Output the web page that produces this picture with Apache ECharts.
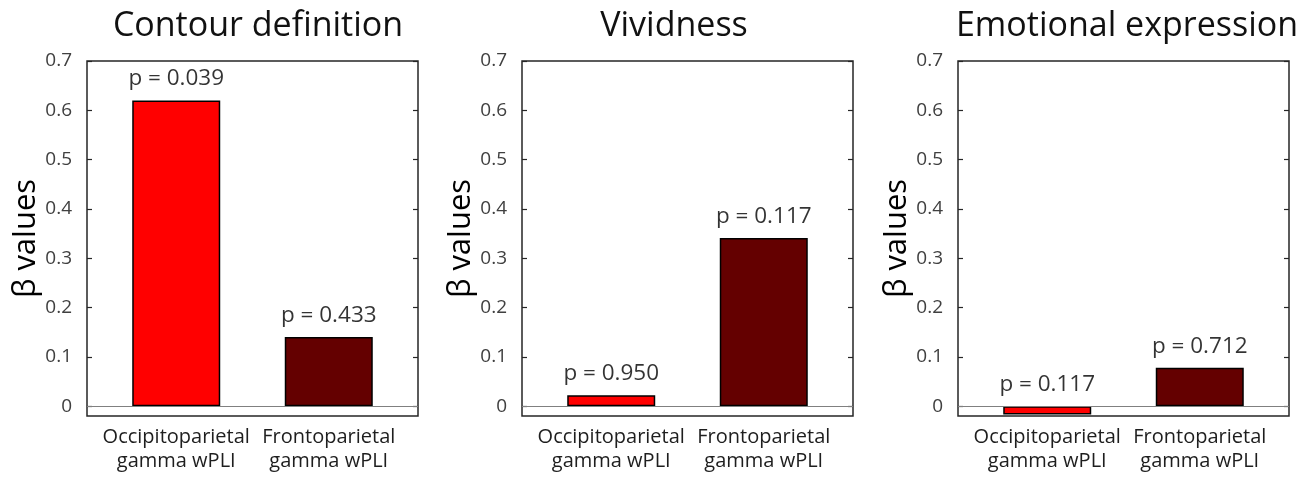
<!DOCTYPE html>
<html>
<head>
<meta charset="utf-8">
<script src="https://cdn.jsdelivr.net/npm/echarts@6/dist/echarts.min.js"></script>
<style>
html,body{margin:0;padding:0;background:#fff;}
#c{width:1314px;height:477px;}
</style>
</head>
<body>
<div id="c"></div>
<script>
const categories = ['Occipitoparietal\ngamma wPLI', 'Frontoparietal\ngamma wPLI'];
const titles = ['Contour definition', 'Vividness', 'Emotional expression'];
const betaContour = [0.62, 0.14];
const betaVividness = [0.022, 0.341];
const betaEmotional = [-0.017, 0.078];
const pContour = ['p = 0.039', 'p = 0.433'];
const pVividness = ['p = 0.950', 'p = 0.117'];
const pEmotional = ['p = 0.117', 'p = 0.712'];
const yTicks = [0, 0.1, 0.2, 0.3, 0.4, 0.5, 0.6, 0.7];
const yTickLabels = ['0', '0.1', '0.2', '0.3', '0.4', '0.5', '0.6', '0.7'];
const barColors = ['#ff0000', '#640000'];

const panels = [
  {title: titles[0], beta: betaContour, p: pContour},
  {title: titles[1], beta: betaVividness, p: pVividness},
  {title: titles[2], beta: betaEmotional, p: pEmotional}
];
const gridLefts = [87, 522, 958];
const titleCenters = [258, 674, 1127];
const GW = 331, GT = 61, GH = 355;
const FONT = '"Open Sans", "Noto Sans", sans-serif';
const AX = '#262626';

const grid = [], xAxis = [], yAxis = [], series = [], graphic = [];
panels.forEach((pn, i) => {
  grid.push({left: gridLefts[i], top: GT, width: GW, height: GH, show: true,
    borderColor: AX, borderWidth: 1.5, backgroundColor: 'transparent'});
  xAxis.push({type: 'value', gridIndex: i, min: 0.415, max: 2.585,
    axisLine: {show: false}, axisTick: {show: false}, splitLine: {show: false},
    axisLabel: {customValues: [1, 2], formatter: v => categories[Math.round(v) - 1],
      fontFamily: FONT, fontSize: 20, lineHeight: 24, color: '#1e1e1e', margin: 9}});
  yAxis.push({type: 'value', gridIndex: i, min: -0.02, max: 0.7,
    axisLine: {show: false}, splitLine: {show: false},
    axisTick: {show: true, inside: true, length: 5, customValues: yTicks, lineStyle: {color: AX, width: 1.2}},
    axisLabel: {customValues: yTicks, formatter: v => yTickLabels[Math.round(v * 10)],
      fontFamily: FONT, fontSize: 19, color: '#404040', margin: 15},
    name: 'β values', nameLocation: 'middle', nameGap: 44, nameRotate: 90,
    nameTextStyle: {fontFamily: FONT, fontSize: 31, color: '#000'}});
  yAxis.push({type: 'value', gridIndex: i, min: -0.02, max: 0.7, position: 'right',
    axisLine: {show: false}, splitLine: {show: false}, axisLabel: {show: false},
    axisTick: {show: true, inside: true, length: 5, customValues: yTicks, lineStyle: {color: AX, width: 1.2}}});
  series.push({type: 'bar', xAxisIndex: i, yAxisIndex: 2 * i, barWidth: 88,
    data: pn.beta.map((v, k) => ({value: [k + 1, v], itemStyle: {color: barColors[k]}})),
    itemStyle: {borderColor: '#000', borderWidth: 1.5},
    markLine: {silent: true, symbol: 'none', label: {show: false},
      lineStyle: {color: '#808080', width: 1.2, type: 'solid'}, data: [{yAxis: 0}]},
    z: 3});
  series.push({type: 'scatter', xAxisIndex: i, yAxisIndex: 2 * i, symbolSize: 0,
    data: pn.beta.map((v, k) => ({value: [k + 1, Math.max(v, 0)],
      label: {formatter: pn.p[k], color: '#000'}})),
    label: {show: true, position: 'top', distance: 10, fontFamily: FONT, fontSize: 22.5, color: '#000'},
    z: 4});
  graphic.push({type: 'text', x: titleCenters[i], y: 26,
    style: {text: pn.title, fontFamily: FONT, fontSize: 34, fill: '#111', textAlign: 'center', textVerticalAlign: 'middle'}});
});

const chart = echarts.init(document.getElementById('c'), null, {renderer: 'canvas'});
chart.setOption({animation: false, grid, xAxis, yAxis, series, graphic});
</script>
</body>
</html>
